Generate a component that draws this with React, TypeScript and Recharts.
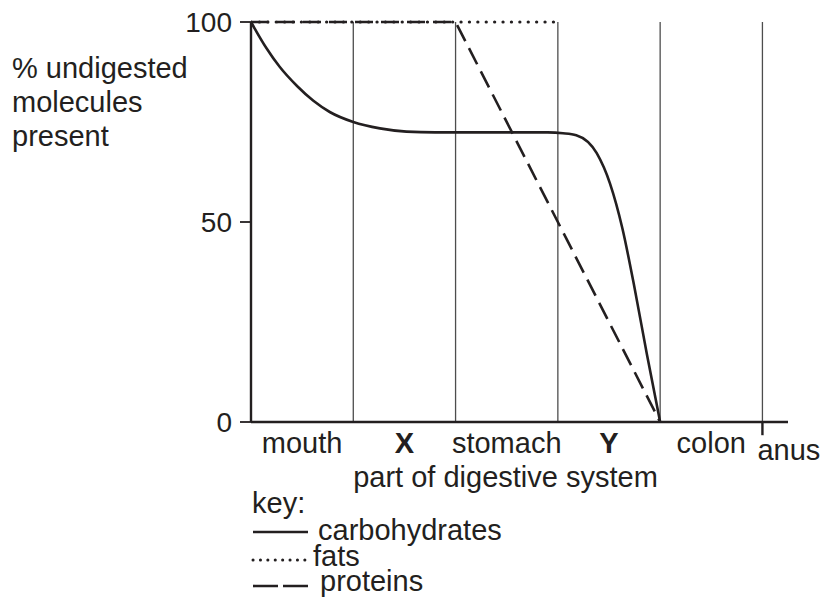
import React from "react";
import {
  LineChart,
  Line,
  XAxis,
  YAxis,
  ReferenceLine,
  Legend,
} from "recharts";

// position along the gut (1 unit = one section) and % undigested
const carbPos = [0, 0.15, 0.28, 0.45, 0.61, 0.77, 1.0, 1.26, 1.52, 1.8, 2.9, 3.05, 3.18, 3.38, 3.51, 3.63, 3.75, 3.87, 4.0];
const carbPct = [100, 93.5, 88.8, 84, 80.3, 77.5, 75, 73.4, 72.6, 72.4, 72.4, 72.2, 71.7, 67.2, 59.6, 48.5, 33.5, 17, 0];
const fatPos = [0, 3];
const fatPct = [100, 100];
const protPos = [0, 2, 4];
const protPct = [100, 100, 0];

const parts = ["mouth", "X", "stomach", "Y", "colon", "anus"];
const boldParts = ["X", "Y"];
const pctTicks = [0, 50, 100];
const yLabelLines = ["% undigested", "molecules", "present"];
const xTitle = "part of digestive system";

const ink = "#231f20";
const font = "'Liberation Sans', Arial, sans-serif";

const toRows = (pos: number[], pct: number[]) =>
  pos.map((u, i) => ({ u, v: pct[i] }));

const carbData = toRows(carbPos, carbPct);
const fatData = toRows(fatPos, fatPct);
const protData = toRows(protPos, protPct);

// section labels sit mid-section, "anus" sits at the end of the tract
const partTicks = parts.map((_, i) => (i < parts.length - 1 ? i + 0.5 : i));
const boundaries = parts.slice(0, parts.length - 1).map((_, i) => i + 1);
const tractEnd = parts.length - 1;

const legendStyles = [
  { strokeDasharray: undefined, strokeWidth: 2.6, strokeLinecap: "butt" },
  { strokeDasharray: "0.1 7.3", strokeWidth: 3, strokeLinecap: "round" },
  { strokeDasharray: "25 5", strokeWidth: 2.6, strokeLinecap: "butt" },
];

const PartTick = (props: any) => {
  const { x, y, payload } = props;
  const label = parts[partTicks.indexOf(payload.value)];
  const isEnd = label === parts[parts.length - 1];
  return (
    <text
      x={isEnd ? x - 5 : x}
      y={y}
      dy={isEnd ? 30 : 23}
      textAnchor={isEnd ? "start" : "middle"}
      fill={ink}
      fontSize={29}
      fontFamily={font}
      fontWeight={boldParts.includes(label) ? "bold" : "normal"}
    >
      {label}
    </text>
  );
};

const YTitle = () => (
  <text x={12} y={78} fill={ink} fontSize={29} fontFamily={font}>
    {yLabelLines.map((line, i) => (
      <tspan key={line} x={12} dy={i === 0 ? 0 : 34}>
        {line}
      </tspan>
    ))}
  </text>
);

const XTitle = (props: any) => {
  const { viewBox } = props;
  return (
    <text
      x={viewBox.x + viewBox.width / 2 - 14}
      y={viewBox.y + 65}
      textAnchor="middle"
      fill={ink}
      fontSize={29}
      fontFamily={font}
    >
      {xTitle}
    </text>
  );
};

const Key = (props: any) => {
  const items = props.payload || [];
  return (
    <svg width={821} height={108} style={{ display: "block", overflow: "visible" }}>
      <text x={252} y={22} fill={ink} fontSize={29} fontFamily={font}>
        key:
      </text>
      {items.map((item: any, i: number) => {
        const rowY = [41, 69, 95][i];
        const textY = [49, 75, 100][i];
        const textX = [318, 313, 320][i];
        const s = legendStyles[i];
        return (
          <g key={item.value}>
            <line
              x1={253}
              x2={308}
              y1={rowY}
              y2={rowY}
              stroke={ink}
              strokeWidth={s.strokeWidth}
              strokeDasharray={s.strokeDasharray}
              strokeLinecap={s.strokeLinecap as any}
            />
            <text x={textX} y={textY} fill={ink} fontSize={29} fontFamily={font}>
              {item.value}
            </text>
          </g>
        );
      })}
    </svg>
  );
};

export default function App() {
  return (
    <div style={{ position: "absolute", left: 0, top: 0, background: "#fff" }}>
      <LineChart
        width={821}
        height={599}
        margin={{ top: 22, right: 33, bottom: 0, left: 191 }}
      >
        <XAxis
          dataKey="u"
          type="number"
          domain={[0, 5.25]}
          ticks={partTicks}
          interval={0}
          tickLine={false}
          axisLine={{ stroke: ink, strokeWidth: 2.4 }}
          tick={<PartTick />}
          height={69}
          label={<XTitle />}
          allowDataOverflow
        />
        <YAxis
          type="number"
          domain={[0, 100]}
          ticks={pctTicks}
          width={60}
          tickSize={11}
          tickMargin={8}
          axisLine={{ stroke: ink, strokeWidth: 2.4 }}
          tickLine={{ stroke: ink, strokeWidth: 1.8 }}
          tick={{ fill: ink, fontSize: 28, fontFamily: font }}
          label={<YTitle />}
        />
        {boundaries.map((b) => (
          <ReferenceLine key={b} x={b} stroke="#4d4d4d" strokeWidth={1.3} />
        ))}
        <ReferenceLine
          segment={[
            { x: tractEnd, y: 0 },
            { x: tractEnd, y: -3.3 },
          ]}
          ifOverflow="visible"
          stroke={ink}
          strokeWidth={2.4}
        />
        <Line
          data={carbData}
          dataKey="v"
          name="carbohydrates"
          type="monotone"
          stroke={ink}
          strokeWidth={2.6}
          dot={false}
          isAnimationActive={false}
        />
        <Line
          data={fatData}
          dataKey="v"
          name="fats"
          type="linear"
          stroke={ink}
          strokeWidth={3.2}
          strokeDasharray="0.1 8.3"
          strokeLinecap="round"
          dot={false}
          isAnimationActive={false}
        />
        <Line
          data={protData}
          dataKey="v"
          name="proteins"
          type="linear"
          stroke={ink}
          strokeWidth={2.6}
          strokeDasharray="18 8"
          dot={false}
          isAnimationActive={false}
        />
        <Legend
          verticalAlign="bottom"
          content={<Key />}
          wrapperStyle={{ left: 0, top: 491, width: 821, height: 108 }}
        />
      </LineChart>
    </div>
  );
}
